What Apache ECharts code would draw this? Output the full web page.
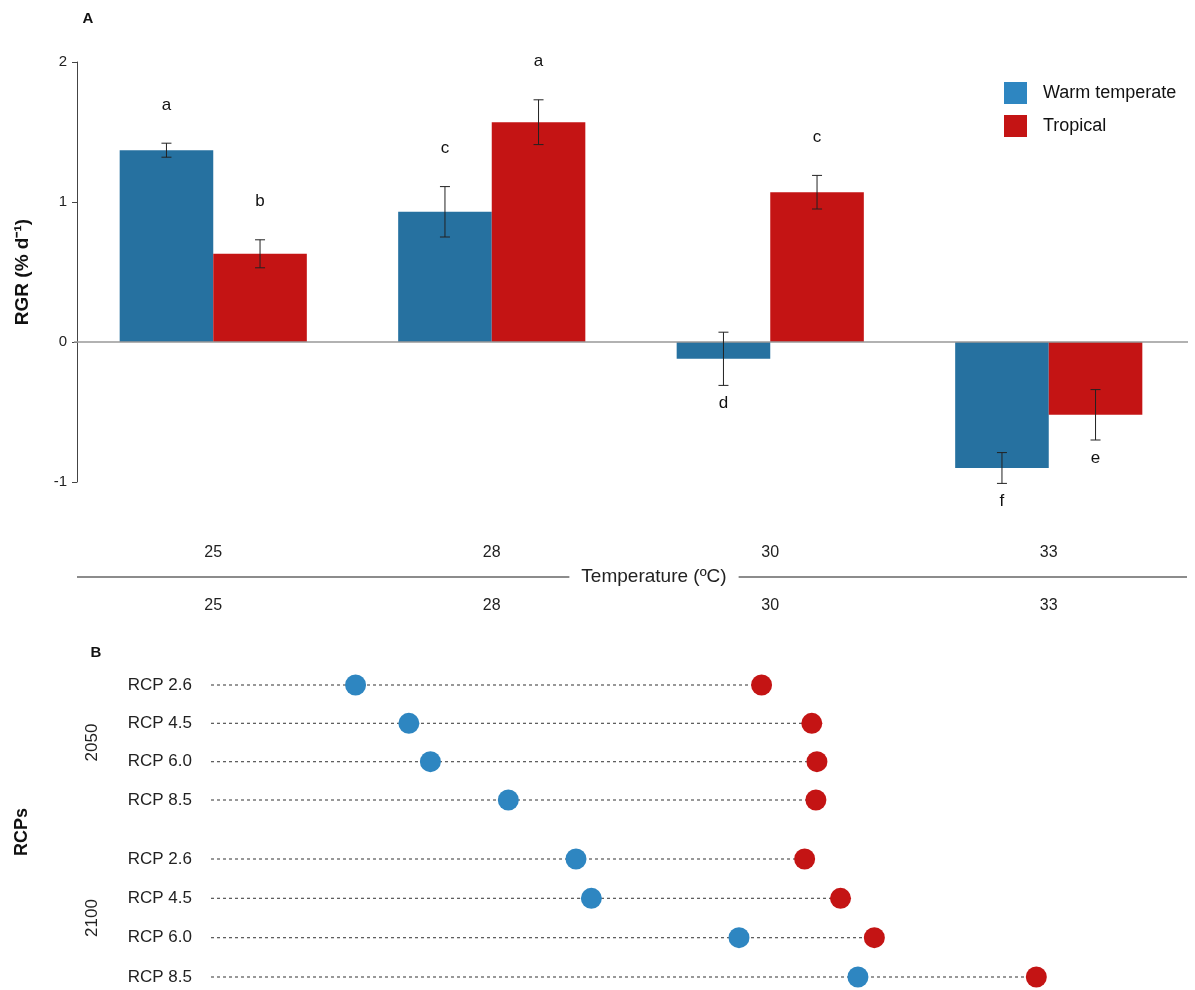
<!DOCTYPE html>
<html>
<head>
<meta charset="utf-8">
<title>RGR by temperature and RCP projections</title>
<script src="https://cdn.jsdelivr.net/npm/echarts@6/dist/echarts.min.js"></script>
<style>
  html, body { margin: 0; padding: 0; background: #fff; }
  #chart { width: 1195px; height: 990px; }
</style>
</head>
<body>
<div id="chart"></div>
<script>
// Panel A: relative growth rate per temperature treatment
const categories = ['25', '28', '30', '33'];
const warmRGR = [1.37, 0.93, -0.12, -0.90];
const warmSE = [0.05, 0.18, 0.19, 0.11];
const tropRGR = [0.63, 1.57, 1.07, -0.52];
const tropSE = [0.10, 0.16, 0.12, 0.18];
const warmLetters = ['a', 'c', 'd', 'f'];
const tropLetters = ['b', 'a', 'c', 'e'];

// Panel B: projected temperature (ºC) per scenario
const rcpLabels = ['RCP 2.6', 'RCP 4.5', 'RCP 6.0', 'RCP 8.5'];
const periods = ['2050', '2100'];
const warmTemp2050 = [26.41, 26.93, 27.14, 27.90];
const tropTemp2050 = [30.37, 30.86, 30.91, 30.90];
const warmTemp2100 = [28.56, 28.71, 30.15, 31.31];
const tropTemp2100 = [30.79, 31.14, 31.47, 33.05];

const FONT = "'Liberation Sans', Arial, sans-serif";
const BLUE_BAR = '#2671A0';
const BLUE = '#2E86C1';
const RED = '#C41414';
const BAR_RATIO = 0.336;

const chart = echarts.init(document.getElementById('chart'), null, { renderer: 'canvas' });

// error bars plus significance letters, centred on each bar of a pair
function errorRenderer(sign, letters) {
  return function (params, api) {
    const i = api.value(0);
    const v = api.value(1);
    const se = api.value(2);
    const band = api.size([1, 0])[0];
    const cx = api.coord([i, 0])[0] + sign * band * BAR_RATIO / 2;
    const yTop = api.coord([i, v + se])[1];
    const yBot = api.coord([i, v - se])[1];
    const cap = 5;
    const stroke = { stroke: '#222', lineWidth: 1 };
    const letterY = v >= 0 ? yTop - 38 : yBot + 18;
    return {
      type: 'group',
      children: [
        { type: 'line', shape: { x1: cx, y1: yTop, x2: cx, y2: yBot }, style: stroke },
        { type: 'line', shape: { x1: cx - cap, y1: yTop, x2: cx + cap, y2: yTop }, style: stroke },
        { type: 'line', shape: { x1: cx - cap, y1: yBot, x2: cx + cap, y2: yBot }, style: stroke },
        {
          type: 'text', x: cx, y: letterY,
          style: {
            text: letters[params.dataIndex], fill: '#111',
            fontSize: 17, fontFamily: FONT, align: 'center', verticalAlign: 'middle'
          }
        }
      ]
    };
  };
}

// dotted guide from the axis start to the farther of the two dots
function guideRenderer(params, api) {
  const row = api.value(0);
  const end = api.coord([Math.max(api.value(1), api.value(2)), row]);
  return {
    type: 'line',
    shape: { x1: params.coordSys.x, y1: end[1], x2: end[0], y2: end[1] },
    style: { stroke: '#555', lineWidth: 1.2, lineDash: [3, 3] }
  };
}

function rcpYAxis(gridIndex, name) {
  return {
    gridIndex: gridIndex, type: 'category', data: rcpLabels, inverse: true, boundaryGap: false,
    axisLine: { show: false }, axisTick: { show: false }, splitLine: { show: false },
    axisLabel: { margin: 19, fontSize: 17, color: '#222', fontFamily: FONT },
    name: name, nameLocation: 'middle', nameGap: 110, nameRotate: 90,
    nameTextStyle: { fontSize: 17, color: '#222', fontFamily: FONT }
  };
}

function tempXAxis(gridIndex) {
  return { gridIndex: gridIndex, type: 'value', min: 25, max: 34.5, show: false };
}

function panelBSeries(idx, warm, trop) {
  return [
    {
      type: 'custom', xAxisIndex: idx + 1, yAxisIndex: idx, z: 1, silent: true,
      renderItem: guideRenderer,
      encode: { x: [1, 2], y: 0 },
      data: warm.map((w, i) => [i, w, trop[i]])
    },
    {
      name: 'Warm temperate', type: 'scatter', xAxisIndex: idx + 1, yAxisIndex: idx, z: 3,
      symbolSize: 21, itemStyle: { color: BLUE, opacity: 1 },
      data: warm.map((w, i) => [w, i])
    },
    {
      name: 'Tropical', type: 'scatter', xAxisIndex: idx + 1, yAxisIndex: idx, z: 3,
      symbolSize: 21, itemStyle: { color: RED, opacity: 1 },
      data: trop.map((t, i) => [t, i])
    }
  ];
}

const barLabelAxis = (offset) => ({
  gridIndex: 0, type: 'category', data: categories, position: 'bottom', offset: offset,
  axisLine: { show: false }, axisTick: { show: false },
  axisLabel: { margin: 63, fontSize: 16, color: '#222', fontFamily: FONT }
});

const option = {
  animation: false,
  backgroundColor: '#fff',
  textStyle: { fontFamily: FONT },
  grid: [
    { left: 74, right: 7, top: 62, bottom: 508 },
    { left: 211, right: 10, top: 685, height: 115 },
    { left: 211, right: 10, top: 859, height: 118 }
  ],
  legend: {
    orient: 'vertical', left: 1004, top: 82, padding: 0,
    itemWidth: 23, itemHeight: 22, itemGap: 11,
    textStyle: { fontSize: 18, color: '#111', fontFamily: FONT, padding: [0, 0, 0, 11] },
    data: [
      { name: 'Warm temperate', icon: 'rect', itemStyle: { color: BLUE } },
      { name: 'Tropical', icon: 'rect', itemStyle: { color: RED } }
    ]
  },
  xAxis: [
    barLabelAxis(0),
    barLabelAxis(53),
    tempXAxis(1),
    tempXAxis(2)
  ],
  yAxis: [
    {
      gridIndex: 0, type: 'value', min: -1, max: 2, interval: 1, offset: -3,
      axisLine: { show: true, lineStyle: { color: '#444', width: 1 } },
      axisTick: { show: true, length: 5, lineStyle: { color: '#444' } },
      axisLabel: { margin: 10, fontSize: 15, color: '#222', fontFamily: FONT },
      splitLine: { show: false },
      name: 'RGR (% d⁻¹)', nameLocation: 'middle', nameGap: 45,
      nameTextStyle: { fontSize: 19, fontWeight: 'bold', color: '#111', fontFamily: FONT }
    },
    rcpYAxis(1, periods[0]),
    rcpYAxis(2, periods[1])
  ],
  series: [
    {
      name: 'Warm temperate', type: 'bar', xAxisIndex: 0, yAxisIndex: 0,
      data: warmRGR, barWidth: (BAR_RATIO * 100) + '%', barGap: '0%',
      itemStyle: { color: BLUE_BAR },
      markLine: {
        silent: true, symbol: ['none', 'none'], label: { show: false },
        lineStyle: { color: '#999', width: 1.5, type: 'solid' },
        data: [{ yAxis: 0 }]
      }
    },
    {
      name: 'Tropical', type: 'bar', xAxisIndex: 0, yAxisIndex: 0,
      data: tropRGR, barWidth: (BAR_RATIO * 100) + '%', barGap: '0%',
      itemStyle: { color: RED }
    },
    {
      type: 'custom', xAxisIndex: 0, yAxisIndex: 0, z: 5, silent: true,
      renderItem: errorRenderer(-1, warmLetters),
      encode: { x: 0, y: 1 },
      data: warmRGR.map((v, i) => [i, v, warmSE[i]])
    },
    {
      type: 'custom', xAxisIndex: 0, yAxisIndex: 0, z: 5, silent: true,
      renderItem: errorRenderer(1, tropLetters),
      encode: { x: 0, y: 1 },
      data: tropRGR.map((v, i) => [i, v, tropSE[i]])
    }
  ].concat(panelBSeries(1, warmTemp2050, tropTemp2050))
   .concat(panelBSeries(2, warmTemp2100, tropTemp2100)),
  graphic: [
    { type: 'text', x: 88, y: 19, style: { text: 'A', fontSize: 15, fontWeight: 'bold', fill: '#111', fontFamily: FONT, align: 'center', verticalAlign: 'middle' } },
    { type: 'text', x: 96, y: 653, style: { text: 'B', fontSize: 15, fontWeight: 'bold', fill: '#111', fontFamily: FONT, align: 'center', verticalAlign: 'middle' } },
    { type: 'line', shape: { x1: 77, y1: 577, x2: 1187, y2: 577 }, style: { stroke: '#666', lineWidth: 1.5 } },
    {
      type: 'text', x: 654, y: 577,
      style: {
        text: 'Temperature (ºC)', fontSize: 19, fill: '#222', fontFamily: FONT,
        align: 'center', verticalAlign: 'middle', backgroundColor: '#fff', padding: [2, 12]
      }
    },
    {
      type: 'text', x: 22, y: 832, rotation: Math.PI / 2,
      style: { text: 'RCPs', fontSize: 18, fontWeight: 'bold', fill: '#111', fontFamily: FONT, align: 'center', verticalAlign: 'middle' }
    }
  ]
};

chart.setOption(option);
</script>
</body>
</html>
